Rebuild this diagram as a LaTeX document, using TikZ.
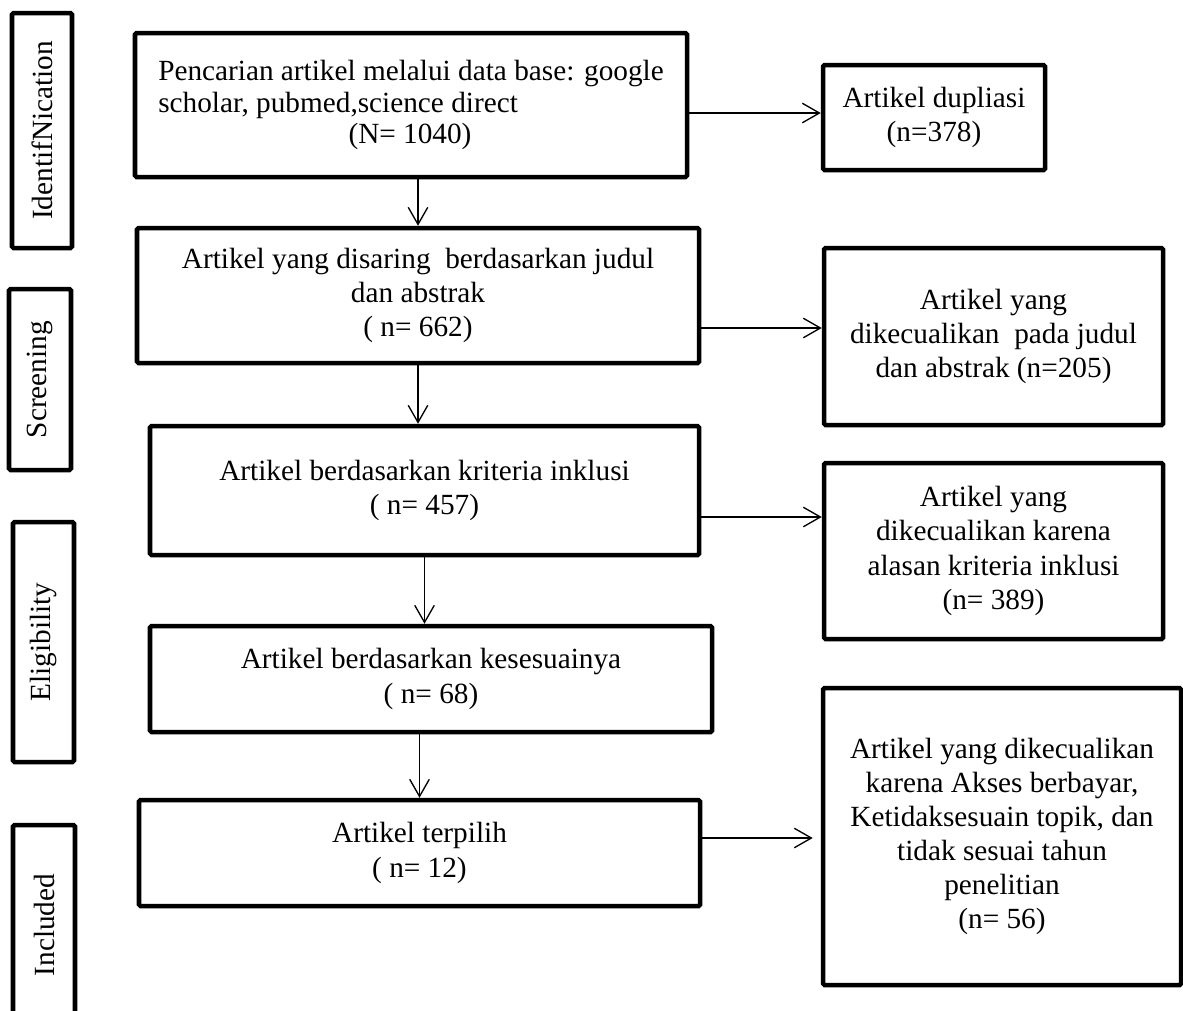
\documentclass[tikz,border=0pt]{standalone}
\usepackage{fontspec}
\setmainfont{Liberation Serif}
\usetikzlibrary{arrows.meta}
\newcommand\pxl{0.41pt}
\begin{document}
\begin{tikzpicture}[x=0.41pt,y=-0.41pt,
    box/.style={draw,line width=1.85pt,rounded corners=0.6pt,align=center,inner sep=0pt,
      font=\fontsize{12}{14}\selectfont},
    stage/.style={box,rotate=90},
    flow/.style={-{Straight Barb[length=7pt,width=8pt]},line width=0.55pt}]
  \useasboundingbox (0,0) rectangle (1183,1010);
  \clip (0,0) rectangle (1183,1010);
  % tahap
  \node[stage,minimum width=235*\pxl,minimum height=60*\pxl](ident)at(42,130.5){IdentifNication};
  \node[stage,minimum width=181*\pxl,minimum height=62*\pxl](screen0)at(40,379.5){Screening};
  \node[stage,minimum width=240*\pxl,minimum height=61*\pxl](elig)at(43.5,642){Eligibility};
  \node[stage,minimum width=200*\pxl,minimum height=62*\pxl](incl0)at(44,925){Included};
  % alur utama
  \node[box,minimum width=552*\pxl,minimum height=144*\pxl,align=left,
    font=\fontsize{12}{13}\selectfont](search)at(411,105)
    {Pencarian artikel melalui data base: google\\scholar, pubmed,science direct\\\hspace*{78pt}(N= 1040)};
  \node[box,minimum width=562*\pxl,minimum height=135*\pxl](screen)at(418,295.5)
    {Artikel yang disaring\ \ berdasarkan judul\\dan abstrak\\( n= 662)};
  \node[box,minimum width=549*\pxl,minimum height=129*\pxl](incl)at(424.5,490.5)
    {Artikel berdasarkan kriteria inklusi\\( n= 457)};
  \node[box,minimum width=562*\pxl,minimum height=106*\pxl](fit)at(431,679)
    {Artikel berdasarkan kesesuainya\\( n= 68)};
  \node[box,minimum width=561*\pxl,minimum height=106*\pxl](pick)at(419.5,853)
    {Artikel terpilih\\( n= 12)};
  % dikeluarkan
  \node[box,minimum width=222*\pxl,minimum height=105*\pxl](dup)at(934,117.5)
    {Artikel dupliasi\\(n=378)};
  \node[box,minimum width=339*\pxl,minimum height=177*\pxl](excl1)at(993.5,336.5)
    {Artikel yang\\dikecualikan\ \ pada judul\\dan abstrak (n=205)};
  \node[box,minimum width=339*\pxl,minimum height=176*\pxl](excl2)at(993.5,551)
    {Artikel yang\\dikecualikan karena\\alasan kriteria inklusi\\(n= 389)};
  \node[box,minimum width=358*\pxl,minimum height=297*\pxl](excl3)at(1002,836.5)
    {Artikel yang dikecualikan\\karena Akses berbayar,\\Ketidaksesuain topik, dan\\tidak sesuai tahun\\penelitian\\(n= 56)};
  % panah
  \coordinate(y1)at(0,113);
  \coordinate(y2)at(0,328);
  \coordinate(y3)at(0,517);
  \coordinate(y4)at(0,838);
  \draw[flow](search.south-|screen.north)--(screen.north);
  \draw[flow](screen.south)--(screen.south|-incl.north);
  \draw[flow](incl.south)--(incl.south|-fit.north);
  \draw[flow](fit.south-|pick.north)--(pick.north);
  \draw[flow](search.east|-y1)--(dup.west|-y1);
  \draw[flow](screen.east|-y2)--(excl1.west|-y2);
  \draw[flow](incl.east|-y3)--(excl2.west|-y3);
  \draw[flow](pick.east|-y4)--([xshift=-3.3pt]excl3.west|-y4);
\end{tikzpicture}
\end{document}
